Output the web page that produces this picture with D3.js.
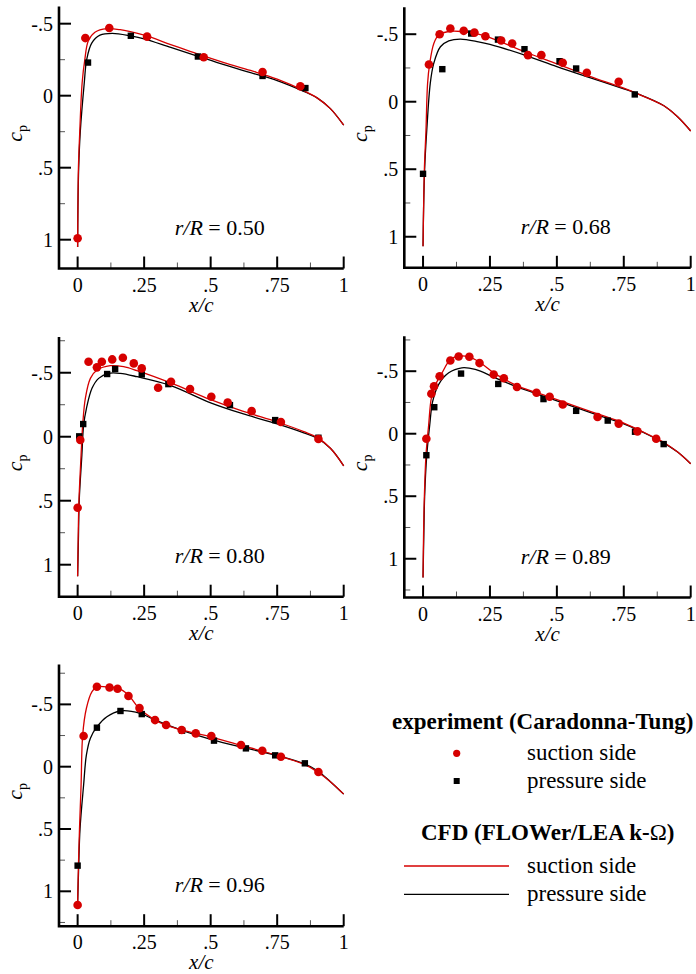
<!DOCTYPE html>
<html>
<head>
<meta charset="utf-8">
<script src="https://cdn.jsdelivr.net/npm/d3@7"></script>
<style>
body { margin: 0; background: #fff; }
text { font-family: "Liberation Serif", "Times New Roman", Times, serif; fill: #000; }
</style>
</head>
<body>
<svg id="chart" width="696" height="974"></svg>
<script>
// r/R stations
var radii = ["0.50", "0.68", "0.80", "0.89", "0.96"];

// experiment (Caradonna-Tung), [x/c, cp]
var expSuction = [
  [[0,0.99],[0.029,-0.40],[0.119,-0.47],[0.261,-0.41],[0.474,-0.267],[0.695,-0.165],[0.837,-0.065]],
  [[0.022,-0.276],[0.062,-0.5],[0.102,-0.542],[0.152,-0.525],[0.192,-0.512],[0.233,-0.485],[0.292,-0.453],
   [0.333,-0.431],[0.392,-0.345],[0.442,-0.345],[0.522,-0.288],[0.612,-0.214],[0.731,-0.148]],
  [[0,0.555],[0.01,0.026],[0.041,-0.586],[0.0725,-0.542],[0.091,-0.586],[0.13,-0.604],[0.17,-0.617],
   [0.211,-0.573],[0.241,-0.534],[0.3025,-0.383],[0.351,-0.43],[0.4225,-0.372],[0.5025,-0.3125],
   [0.564,-0.268],[0.654,-0.2],[0.764,-0.115],[0.905,0.018]],
  [[0.0124,0.04],[0.031,-0.32],[0.041,-0.379],[0.062,-0.46],[0.102,-0.586],[0.133,-0.618],[0.173,-0.616],
   [0.211,-0.565],[0.264,-0.473],[0.302,-0.444],[0.351,-0.374],[0.424,-0.328],[0.473,-0.296],[0.522,-0.234],
   [0.652,-0.134],[0.731,-0.081],[0.801,-0.019],[0.871,0.04]],
  [[0,1.11],[0.0225,-0.246],[0.0725,-0.642],[0.12,-0.636],[0.15,-0.626],[0.191,-0.567],[0.2325,-0.47],
   [0.291,-0.374],[0.3325,-0.334],[0.391,-0.294],[0.444,-0.267],[0.5025,-0.246],[0.614,-0.174],
   [0.694,-0.128],[0.764,-0.08],[0.905,0.043]]
];
var expPressure = [
  [[0.039,-0.23],[0.20,-0.416],[0.452,-0.272],[0.695,-0.137],[0.856,-0.053]],
  [[0,0.534],[0.072,-0.241],[0.18,-0.505],[0.28,-0.46],[0.379,-0.389],[0.51,-0.3],[0.572,-0.246],[0.791,-0.054]],
  [[0.006,-0.003],[0.021,-0.099],[0.111,-0.49],[0.141,-0.529],[0.241,-0.487],[0.341,-0.411],[0.5725,-0.247],
   [0.7425,-0.13],[0.905,0.008]],
  [[0.0124,0.172],[0.042,-0.212],[0.142,-0.481],[0.281,-0.398],[0.45,-0.277],[0.572,-0.183],[0.69,-0.105],
   [0.792,-0.016],[0.899,0.083]],
  [[0,0.794],[0.0725,-0.313],[0.161,-0.447],[0.241,-0.422],[0.3925,-0.289],[0.5125,-0.209],[0.6325,-0.147],
   [0.7425,-0.091],[0.854,-0.027]]
];

// CFD (FLOWer/LEA k-omega)
var cfdSuction = [
  [[0,1.05],[0.001,0.8],[0.003,0.5],[0.008,0.25],[0.017,-0.09],[0.027,-0.25],[0.04,-0.38],[0.065,-0.44],
   [0.11,-0.465],[0.16,-0.458],[0.25,-0.42],[0.35,-0.355],[0.45,-0.29],[0.55,-0.23],[0.65,-0.175],
   [0.75,-0.115],[0.85,-0.035],[0.9,0.015],[0.95,0.09],[1,0.205]],
  [[0,1.07],[0.002,0.8],[0.005,0.5],[0.011,0.21],[0.017,-0.136],[0.025,-0.284],[0.04,-0.43],[0.058,-0.495],
   [0.096,-0.52],[0.145,-0.52],[0.195,-0.506],[0.25,-0.475],[0.38,-0.37],[0.5,-0.28],[0.62,-0.19],
   [0.75,-0.1],[0.8,-0.06],[0.9,0.03],[0.95,0.11],[1,0.217]],
  [[0,1.09],[0.002,0.8],[0.005,0.5],[0.013,0.143],[0.019,-0.091],[0.029,-0.3],[0.048,-0.456],[0.073,-0.521],
   [0.123,-0.555],[0.173,-0.547],[0.223,-0.516],[0.35,-0.42],[0.5,-0.29],[0.62,-0.2],[0.75,-0.115],
   [0.85,-0.04],[0.9,0.005],[0.95,0.09],[1,0.227]],
  [[0,1.15],[0.002,0.8],[0.005,0.5],[0.011,0.172],[0.021,-0.07],[0.031,-0.285],[0.046,-0.39],[0.071,-0.487],
   [0.102,-0.594],[0.133,-0.621],[0.17,-0.616],[0.214,-0.568],[0.27,-0.479],[0.357,-0.379],[0.45,-0.31],
   [0.55,-0.235],[0.65,-0.16],[0.75,-0.085],[0.85,0.015],[0.9,0.07],[0.95,0.145],[1,0.24]],
  [[0,1.1],[0.003,0.8],[0.007,0.5],[0.013,0.147],[0.019,-0.254],[0.033,-0.469],[0.054,-0.602],[0.073,-0.642],
   [0.123,-0.637],[0.154,-0.629],[0.191,-0.575],[0.229,-0.473],[0.29,-0.375],[0.329,-0.335],[0.4,-0.29],
   [0.5,-0.24],[0.6,-0.18],[0.75,-0.09],[0.85,-0.02],[0.9,0.04],[0.95,0.12],[1,0.22]]
];
var cfdPressure = [
  [[0,1.05],[0.001,0.8],[0.004,0.5],[0.01,0.25],[0.025,-0.09],[0.034,-0.25],[0.053,-0.365],[0.084,-0.42],
   [0.13,-0.433],[0.2,-0.415],[0.25,-0.395],[0.35,-0.335],[0.45,-0.275],[0.55,-0.215],[0.65,-0.16],
   [0.75,-0.105],[0.85,-0.03],[0.9,0.015],[0.95,0.09],[1,0.205]],
  [[0,1.07],[0.002,0.8],[0.006,0.5],[0.014,0.21],[0.027,-0.136],[0.04,-0.284],[0.065,-0.407],[0.096,-0.45],
   [0.139,-0.464],[0.207,-0.444],[0.25,-0.425],[0.38,-0.345],[0.5,-0.26],[0.62,-0.18],[0.75,-0.095],
   [0.8,-0.06],[0.9,0.03],[0.95,0.11],[1,0.217]],
  [[0,1.09],[0.003,0.8],[0.006,0.5],[0.016,0.143],[0.0225,-0.091],[0.033,-0.22],[0.054,-0.378],[0.079,-0.456],
   [0.116,-0.495],[0.16,-0.495],[0.223,-0.469],[0.35,-0.4],[0.5,-0.265],[0.62,-0.18],[0.75,-0.1],
   [0.85,-0.03],[0.9,0.012],[0.95,0.09],[1,0.227]],
  [[0,1.15],[0.003,0.8],[0.006,0.5],[0.014,0.172],[0.025,-0.07],[0.036,-0.258],[0.058,-0.393],[0.096,-0.487],
   [0.145,-0.527],[0.195,-0.514],[0.27,-0.447],[0.357,-0.37],[0.45,-0.3],[0.55,-0.225],[0.65,-0.15],
   [0.75,-0.078],[0.85,0.018],[0.9,0.075],[0.95,0.145],[1,0.24]],
  [[0,1.1],[0.004,0.8],[0.009,0.5],[0.0225,0.147],[0.033,-0.094],[0.048,-0.228],[0.073,-0.321],[0.11,-0.401],
   [0.16,-0.447],[0.235,-0.428],[0.29,-0.375],[0.4,-0.285],[0.5,-0.22],[0.6,-0.165],[0.75,-0.09],
   [0.85,-0.025],[0.9,0.03],[0.95,0.12],[1,0.22]]
];

// axis limits and ticks
var xDomain = [-0.07, 1];
var yDomains = [[-0.62, 1.2], [-0.7, 1.23], [-0.78, 1.25], [-0.78, 1.31], [-0.82, 1.28]];
var xMajor = [0, 0.25, 0.5, 0.75, 1];
var xMinor = [0.125, 0.375, 0.625, 0.875];
var yMajor = [-0.5, 0, 0.5, 1];
var yMinor = [-0.75, -0.25, 0.25, 0.75, 1.25];

// panel frames in pixels
var frames = [
  {left: 59, right: 343.7, top: 6.4, bot: 268.5},
  {left: 404.3, right: 690.7, top: 7.2, bot: 267.8},
  {left: 59, right: 343.7, top: 336.9, bot: 596.7},
  {left: 404.3, right: 690.7, top: 336.2, bot: 597.5},
  {left: 59, right: 343.7, top: 664.5, bot: 926.2}
];

var red = "#d60000";
var svg = d3.select("#chart");

function fmt(v) {
  if (v == 0) return "0";
  if (v == 1) return "1";
  return String(v).replace("0.", ".");
}

radii.forEach(function(r, i) {
  var f = frames[i];
  var x = d3.scaleLinear().domain(xDomain).range([f.left, f.right]);
  var y = d3.scaleLinear().domain(yDomains[i]).range([f.top, f.bot]);
  var g = svg.append("g");

  // minor ticks
  g.selectAll(".xm").data(xMinor).enter().append("line")
    .attr("x1", d => x(d)).attr("x2", d => x(d))
    .attr("y1", f.bot).attr("y2", f.bot - 6)
    .attr("stroke", "#555").attr("stroke-width", 1);
  g.selectAll(".ym").data(yMinor.filter(d => d > yDomains[i][0] && d <= yDomains[i][1])).enter().append("line")
    .attr("y1", d => y(d)).attr("y2", d => y(d))
    .attr("x1", f.left).attr("x2", f.left + 6)
    .attr("stroke", "#555").attr("stroke-width", 1);

  // major ticks
  g.selectAll(".xM").data(xMajor).enter().append("line")
    .attr("x1", d => x(d)).attr("x2", d => x(d))
    .attr("y1", f.bot).attr("y2", f.bot - 12)
    .attr("stroke", "#000").attr("stroke-width", 2);
  g.selectAll(".yM").data(yMajor).enter().append("line")
    .attr("y1", d => y(d)).attr("y2", d => y(d))
    .attr("x1", f.left).attr("x2", f.left + 12)
    .attr("stroke", "#000").attr("stroke-width", 2);

  // axis lines
  g.append("path")
    .attr("d", "M" + f.left + "," + f.top + "V" + f.bot + "H" + f.right)
    .attr("fill", "none").attr("stroke", "#000").attr("stroke-width", 2.6);

  // tick labels
  g.selectAll(".xl").data(xMajor).enter().append("text")
    .attr("x", d => x(d)).attr("y", f.bot + 23)
    .attr("text-anchor", "middle").attr("font-size", 20)
    .text(fmt);
  g.selectAll(".yl").data(yMajor).enter().append("text")
    .attr("x", f.left - 6).attr("y", d => y(d)).attr("dy", "0.35em")
    .attr("text-anchor", "end").attr("font-size", 20)
    .text(fmt);

  // axis titles
  g.append("text")
    .attr("x", (f.left + f.right) / 2).attr("y", f.bot + 43)
    .attr("text-anchor", "middle").attr("font-size", 21).attr("font-style", "italic")
    .text("x/c");
  var yt = g.append("text")
    .attr("transform", "translate(" + (f.left - 37) + "," + ((f.top + f.bot) / 2 - 4) + ") rotate(-90)")
    .attr("text-anchor", "middle").attr("font-size", 22);
  yt.append("tspan").attr("font-style", "italic").text("c");
  yt.append("tspan").attr("font-size", 14).attr("dy", 5).text("p");

  // CFD lines
  var line = d3.line().x(d => x(d[0])).y(d => y(d[1])).curve(d3.curveCatmullRom.alpha(0.5));
  g.append("path").attr("d", line(cfdPressure[i]))
    .attr("fill", "none").attr("stroke", "#000").attr("stroke-width", 1.3);
  g.append("path").attr("d", line(cfdSuction[i]))
    .attr("fill", "none").attr("stroke", red).attr("stroke-width", 1.3);

  // experiment markers
  g.selectAll(".sq").data(expPressure[i]).enter().append("rect")
    .attr("x", d => x(d[0]) - 3.2).attr("y", d => y(d[1]) - 3.2)
    .attr("width", 6.4).attr("height", 6.4).attr("fill", "#000");
  g.selectAll(".ci").data(expSuction[i]).enter().append("circle")
    .attr("cx", d => x(d[0])).attr("cy", d => y(d[1])).attr("r", 4.3)
    .attr("fill", red);

  // station label
  var lab = g.append("text")
    .attr("x", x(0.365)).attr("y", f.bot - 34)
    .attr("font-size", 22);
  lab.append("tspan").attr("font-style", "italic").text("r/R");
  lab.append("tspan").text(" = " + r);
});

// legend
var lg = svg.append("g");
lg.append("text").attr("x", 392).attr("y", 729)
  .attr("font-size", 23).attr("font-weight", "bold")
  .text("experiment (Caradonna-Tung)");
lg.append("circle").attr("cx", 456.7).attr("cy", 753.3).attr("r", 3.6).attr("fill", red);
lg.append("text").attr("x", 527).attr("y", 760).attr("font-size", 23).text("suction side");
lg.append("rect").attr("x", 453.7).attr("y", 778).attr("width", 6).attr("height", 6).attr("fill", "#000");
lg.append("text").attr("x", 527).attr("y", 788).attr("font-size", 23).text("pressure side");

var cfdT = lg.append("text").attr("x", 421).attr("y", 840)
  .attr("font-size", 23).attr("font-weight", "bold");
cfdT.append("tspan").text("CFD (FLOWer/LEA k-");
cfdT.append("tspan").attr("font-weight", "normal").text("Ω");
cfdT.append("tspan").text(")");
lg.append("line").attr("x1", 404).attr("x2", 509).attr("y1", 866).attr("y2", 866)
  .attr("stroke", red).attr("stroke-width", 1.3);
lg.append("text").attr("x", 527).attr("y", 873).attr("font-size", 23).text("suction side");
lg.append("line").attr("x1", 404).attr("x2", 509).attr("y1", 894.3).attr("y2", 894.3)
  .attr("stroke", "#000").attr("stroke-width", 1.3);
lg.append("text").attr("x", 527).attr("y", 901).attr("font-size", 23).text("pressure side");
</script>
</body>
</html>
